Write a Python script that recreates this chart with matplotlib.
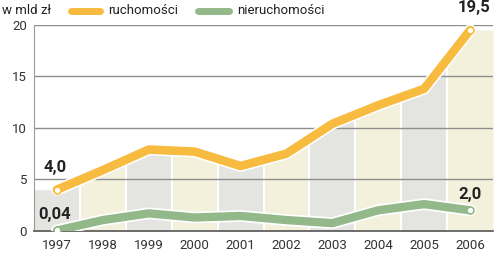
import numpy as np
import matplotlib
matplotlib.use('Agg')
import matplotlib.pyplot as plt
import matplotlib.patheffects as pe
from matplotlib.lines import Line2D

plt.rcParams['font.family'] = ['Roboto', 'DejaVu Sans']

# data (mld zl)
years = [1997, 1998, 1999, 2000, 2001, 2002, 2003, 2004, 2005, 2006]
ruchomosci = [4.0, 5.9, 7.9, 7.7, 6.3, 7.5, 10.4, 12.2, 13.8, 19.5]
nieruchomosci = [0.04, 1.05, 1.7, 1.3, 1.45, 1.05, 0.75, 2.0, 2.6, 2.0]
yticks = [0, 5, 10, 15, 20]

yellow = '#f7bb3f'
green = '#93b88a'
band_cols = ['#e4e4e1', '#f3f1dc']

fig = plt.figure(figsize=(5, 2.6), dpi=100)
ax = fig.add_axes([0.068, 0.112, 0.918, 0.792])

# bands under the ruchomosci line, one per year
x_ext = [years[0] - 0.5] + years + [years[-1] + 0.5]
y_ext = [ruchomosci[0]] + ruchomosci + [ruchomosci[-1]]
for i, yr in enumerate(years):
    xs = [yr - 0.5, yr, yr + 0.5]
    ys = np.interp(xs, x_ext, y_ext)
    ax.fill_between(xs, 0, ys, color=band_cols[i % 2], lw=0, zorder=1)
for yr in years[:-1]:
    b = yr + 0.5
    ax.vlines(b, 0, np.interp(b, x_ext, y_ext), color='white', lw=1.5, zorder=1.5)

for t in yticks[1:]:
    ax.axhline(t, color='#8e8e8e', lw=1, zorder=2)

stroke = [pe.withStroke(linewidth=8.5, foreground='white')]
ax.plot(years, ruchomosci, color=yellow, lw=6.2, solid_joinstyle='round',
        solid_capstyle='round', path_effects=stroke, zorder=4)
ax.plot(years, nieruchomosci, color=green, lw=6, solid_joinstyle='round',
        solid_capstyle='round', path_effects=stroke, zorder=3)

for ser, col in [(ruchomosci, yellow), (nieruchomosci, green)]:
    ax.plot([years[0], years[-1]], [ser[0], ser[-1]], 'o', ms=5,
            mfc='white', mec=col, mew=1.2, zorder=5)

lab = dict(fontsize=12, fontweight='bold', color='#222222', zorder=6)
ax.text(1996.95, 5.4, '4,0', ha='center', va='bottom', **lab)
ax.text(1996.95, 0.9, '0,04', ha='center', va='bottom', **lab)
ax.text(2006, 2.8, '2,0', ha='center', va='bottom', **lab)
ax.text(2006.45, 21.0, '19,5', ha='right', va='bottom', clip_on=False, **lab)

ax.set_xlim(1996.5, 2006.5)
ax.set_ylim(0, 20)
ax.set_xticks(years)
ax.set_yticks(yticks)
ax.tick_params(axis='both', length=0, labelsize=9.5, colors='#333333')
ax.tick_params(axis='x', pad=6)
ax.tick_params(axis='y', pad=5)
for s in ['top', 'right']:
    ax.spines[s].set_visible(False)
ax.spines['left'].set_color('#9a9a9a')
ax.spines['bottom'].set_color('#555555')
ax.spines['bottom'].set_linewidth(1.2)

# legend at top
fig.text(0.004, 0.958, 'w mld zł', fontsize=9.5, va='center', color='#222222')
fig.add_artist(Line2D([0.142, 0.2], [0.958, 0.958], color=yellow, lw=5,
                      solid_capstyle='round'))
fig.text(0.216, 0.958, 'ruchomości', fontsize=9.5, va='center', color='#222222')
fig.add_artist(Line2D([0.396, 0.458], [0.958, 0.958], color=green, lw=5,
                      solid_capstyle='round'))
fig.text(0.474, 0.958, 'nieruchomości', fontsize=9.5, va='center', color='#222222')

fig.savefig('out.png', dpi=100)
